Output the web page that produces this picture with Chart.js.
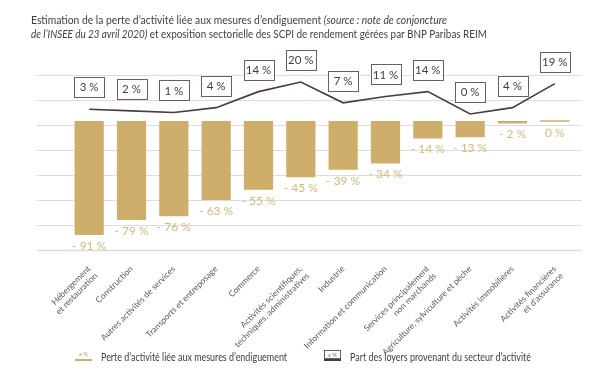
<!DOCTYPE html>
<html><head><meta charset="utf-8">
<script src="https://cdn.jsdelivr.net/npm/chart.js@4/dist/chart.umd.min.js"></script>
<style>
html,body{margin:0;padding:0;background:#fff;}
#wrap{position:relative;width:613px;height:380px;overflow:hidden;font-family:Lato,"Open Sans",sans-serif;}
#c{position:absolute;left:0;top:0;}
.t{position:absolute;white-space:nowrap;color:#404040;transform-origin:0 50%;}
.title{font-size:11.5px;line-height:14px;}
.leg{font-size:10.5px;line-height:14px;}
.ic{position:absolute;font-size:6px;line-height:8px;text-align:center;}
</style></head>
<body><div id="wrap">
<canvas id="c" width="613" height="380"></canvas>
<div class="t title" style="left:31px;top:12.5px" data-w="416">Estimation de la perte d’activité liée aux mesures d’endiguement <i>(source : note de conjoncture</i></div>
<div class="t title" style="left:31px;top:26.5px" data-w="456"><i>de l’INSEE du 23 avril 2020)</i> et exposition sectorielle des SCPI de rendement gérées par BNP Paribas REIM</div>
<div class="ic" style="left:75px;top:350px;width:17px;height:8px;color:#b59a5e">a %</div>
<div class="ic" style="left:75px;top:359px;width:17px;height:2px;background:#d0ad6b"></div>
<div class="t leg" style="left:101px;top:350px" data-w="186">Perte d’activité liée aux mesures d’endiguement</div>
<div class="ic" style="left:324px;top:350px;width:15px;height:7px;border:1px solid #6e5c62;color:#4a8a4a">a %</div>
<div class="ic" style="left:324px;top:359px;width:17px;height:2px;background:#4e3940"></div>
<div class="t leg" style="left:350px;top:350px" data-w="181">Part des loyers provenant du secteur d’activité</div>
</div>
<script>
const categories = [["Hébergement","et restauration"],"Construction","Autres activités de services","Transports et entreposage","Commerce",["Activités scientifiques,","techniques, administratives"],"Industrie","Information et communication",["Services principalement","non marchands"],"Agriculture, sylviculture et pêche","Activités immobilières",["Activités financières","et d’assurance"]];
const activityLoss = [-91,-79,-76,-63,-55,-45,-39,-34,-14,-13,-2,0];
const rentShare = [3,2,1,4,14,20,7,11,14,0,4,19];

document.querySelectorAll('[data-w]').forEach(el=>{
  const w = el.getBoundingClientRect().width;
  el.style.transform = 'scaleX(' + (parseFloat(el.dataset.w)/w) + ')';
});

const BAR = '#cfad6b', BARLBL = '#d7b879', LINE = '#4e3940', BOX = '#6e5c62', BOXTXT = '#4a3a3f';
const fmt = v => (v < 0 ? '- ' + Math.abs(v) : String(v)) + ' %';

const gridPlugin = {
  id: 'grid',
  beforeDatasetsDraw(chart){
    const g = chart.scales.g, a = chart.chartArea, ctx = chart.ctx;
    ctx.save();
    g.ticks.forEach((t)=>{
      const y = Math.round(g.getPixelForValue(t.value)) + 0.5;
      ctx.strokeStyle = '#dcdcdc';
      ctx.lineWidth = (t.value === g.min) ? 1.6 : 1;
      ctx.beginPath(); ctx.moveTo(a.left - 31, y); ctx.lineTo(a.right + 6, y); ctx.stroke();
    });
    ctx.restore();
  },
  afterDatasetsDraw(chart){
    const ctx = chart.ctx;
    ctx.save();
    ctx.textAlign = 'center'; ctx.textBaseline = 'middle';
    ctx.font = '12px Lato, sans-serif';
    ctx.fillStyle = BARLBL;
    chart.getDatasetMeta(0).data.forEach((el,i)=>{
      const y = Math.max(el.y, el.base) + 11;
      ctx.fillText(fmt(activityLoss[i]), el.x, y);
    });
    ctx.font = '11.5px Lato, sans-serif';
    chart.getDatasetMeta(1).data.forEach((p,i)=>{
      const cx = p.x, cy = p.y - 22, w = 30, h = 20;
      ctx.fillStyle = '#fff';
      ctx.fillRect(cx - w/2, cy - h/2, w, h);
      ctx.strokeStyle = BOX; ctx.lineWidth = 1;
      ctx.strokeRect(Math.round(cx - w/2) + 0.5, Math.round(cy - h/2) + 0.5, w, h);
      ctx.fillStyle = BOXTXT;
      ctx.fillText(fmt(rentShare[i]), cx, cy + 0.5);
    });
    ctx.restore();
  }
};

new Chart(document.getElementById('c'), {
  data: {
    labels: categories,
    datasets: [
      { type:'bar', data: activityLoss, backgroundColor: BAR, yAxisID:'y', barPercentage:0.69, categoryPercentage:1, minBarLength:1.5, order:2 },
      { type:'line', data: rentShare, borderColor: LINE, borderWidth:1.6, pointRadius:0, tension:0, yAxisID:'y2', order:1 }
    ]
  },
  options: {
    responsive:false, animation:false, devicePixelRatio:1,
    layout:{ padding:{ left:68, right:37, top:75, bottom:0 } },
    plugins:{ legend:{display:false}, tooltip:{enabled:false} },
    scales:{
      x:{ type:'category', grid:{display:false}, border:{display:false},
          afterFit(s){ s.height = 130; },
          ticks:{ autoSkip:false, minRotation:45, maxRotation:45, padding:6, color:'#595959', font:{ family:'Lato', size:8.5, lineHeight:1.15 } } },
      y:{ type:'linear', axis:'y', display:false, min:-103, max:36.7 },
      y2:{ type:'linear', axis:'y', display:false, min:-85, max:24.4 },
      g:{ type:'linear', axis:'y', display:false, min:0, max:7, ticks:{ stepSize:1 } }
    }
  },
  plugins:[gridPlugin]
});
</script>
</body></html>
